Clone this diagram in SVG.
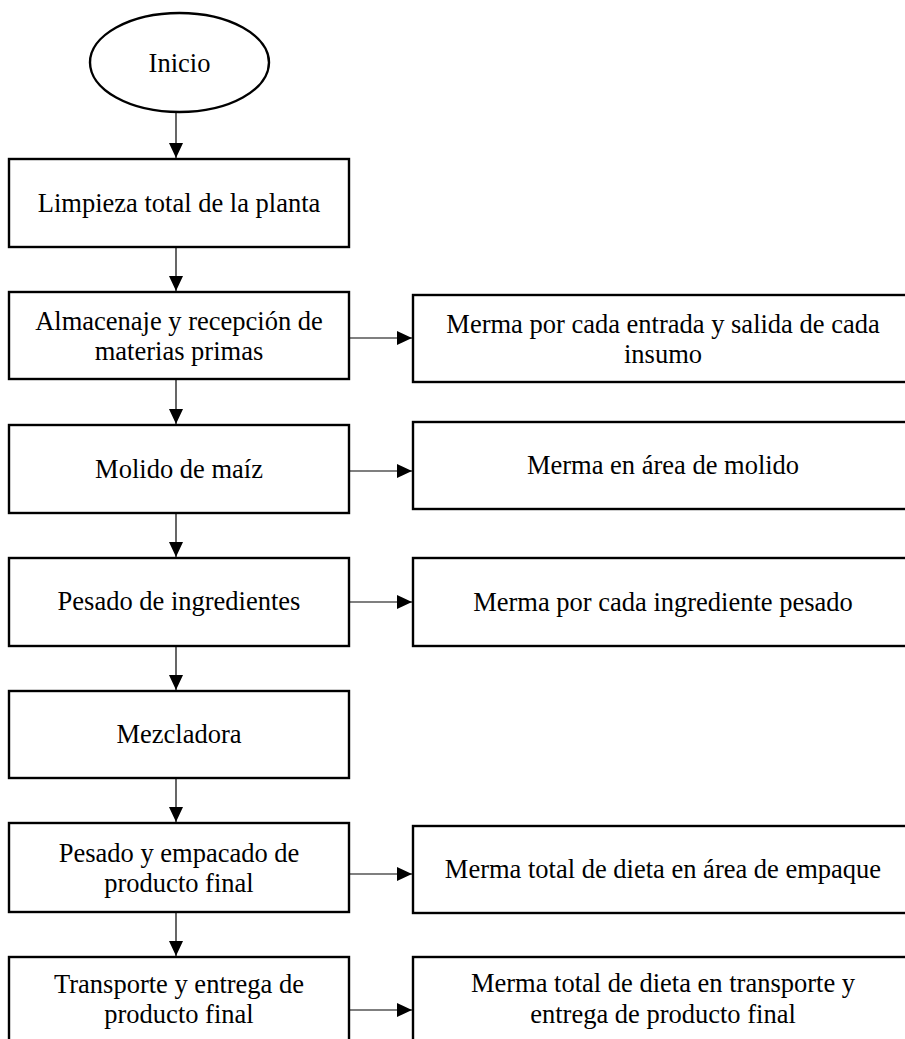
<svg xmlns="http://www.w3.org/2000/svg" width="905" height="1039" viewBox="0 0 905 1039">
<style>
.box{fill:#fff;stroke:#000;stroke-width:2.4}
.t{font-family:"Liberation Serif","Times New Roman",serif;font-size:26.5px;fill:#000;text-anchor:middle}
.c{stroke:#000;stroke-width:1.2;fill:none;marker-end:url(#ah)}
</style>
<defs>
<marker id="ah" markerUnits="userSpaceOnUse" markerWidth="15" markerHeight="14" refX="15" refY="7" orient="auto">
<path d="M0,0 L15,7 L0,14 z" fill="#000"/>
</marker>
</defs>
<rect width="905" height="1039" fill="#fff"/>
<g id="connectors">
<line class="c" x1="176" y1="112" x2="176" y2="158"/>
<line class="c" x1="176" y1="247" x2="176" y2="291"/>
<line class="c" x1="176" y1="379" x2="176" y2="424"/>
<line class="c" x1="176" y1="513" x2="176" y2="557"/>
<line class="c" x1="176" y1="646" x2="176" y2="690"/>
<line class="c" x1="176" y1="778" x2="176" y2="822"/>
<line class="c" x1="176" y1="912" x2="176" y2="956"/>
<line class="c" x1="349" y1="338" x2="412" y2="338"/>
<line class="c" x1="349" y1="471" x2="412" y2="471"/>
<line class="c" x1="349" y1="602" x2="412" y2="602"/>
<line class="c" x1="349" y1="874" x2="412" y2="874"/>
<line class="c" x1="349" y1="1010" x2="412" y2="1010"/>
</g>
<g id="inicio">
<ellipse class="box" cx="179.5" cy="62.5" rx="89.5" ry="49.5"/>
<text class="t" x="179.5" y="72">Inicio</text>
</g>
<g id="limpieza">
<rect class="box" x="9" y="159" width="340" height="88"/>
<text class="t" x="179" y="212">Limpieza total de la planta</text>
</g>
<g id="almacenaje">
<rect class="box" x="9" y="292" width="340" height="87"/>
<text class="t" x="179" y="330">Almacenaje y recepción de</text>
<text class="t" x="179" y="360">materias primas</text>
</g>
<g id="molido">
<rect class="box" x="9" y="425" width="340" height="88"/>
<text class="t" x="179" y="478">Molido de maíz</text>
</g>
<g id="pesado">
<rect class="box" x="9" y="558" width="340" height="88"/>
<text class="t" x="179" y="610">Pesado de ingredientes</text>
</g>
<g id="mezcladora">
<rect class="box" x="9" y="691" width="340" height="87"/>
<text class="t" x="179" y="743">Mezcladora</text>
</g>
<g id="empacado">
<rect class="box" x="9" y="823" width="340" height="89"/>
<text class="t" x="179" y="862">Pesado y empacado de</text>
<text class="t" x="179" y="892">producto final</text>
</g>
<g id="transporte">
<rect class="box" x="9" y="957" width="340" height="100"/>
<text class="t" x="179" y="993">Transporte y entrega de</text>
<text class="t" x="179" y="1023">producto final</text>
</g>
<g id="merma1">
<rect class="box" x="413" y="295" width="500" height="87"/>
<text class="t" x="663" y="333">Merma por cada entrada y salida de cada</text>
<text class="t" x="663" y="363">insumo</text>
</g>
<g id="merma2">
<rect class="box" x="413" y="422" width="500" height="87"/>
<text class="t" x="663" y="474">Merma en área de molido</text>
</g>
<g id="merma3">
<rect class="box" x="413" y="558" width="500" height="88"/>
<text class="t" x="663" y="611">Merma por cada ingrediente pesado</text>
</g>
<g id="merma4">
<rect class="box" x="413" y="826" width="500" height="87"/>
<text class="t" x="663" y="878">Merma total de dieta en área de empaque</text>
</g>
<g id="merma5">
<rect class="box" x="413" y="957" width="500" height="100"/>
<text class="t" x="663" y="992">Merma total de dieta en transporte y</text>
<text class="t" x="663" y="1023">entrega de producto final</text>
</g>
</svg>
